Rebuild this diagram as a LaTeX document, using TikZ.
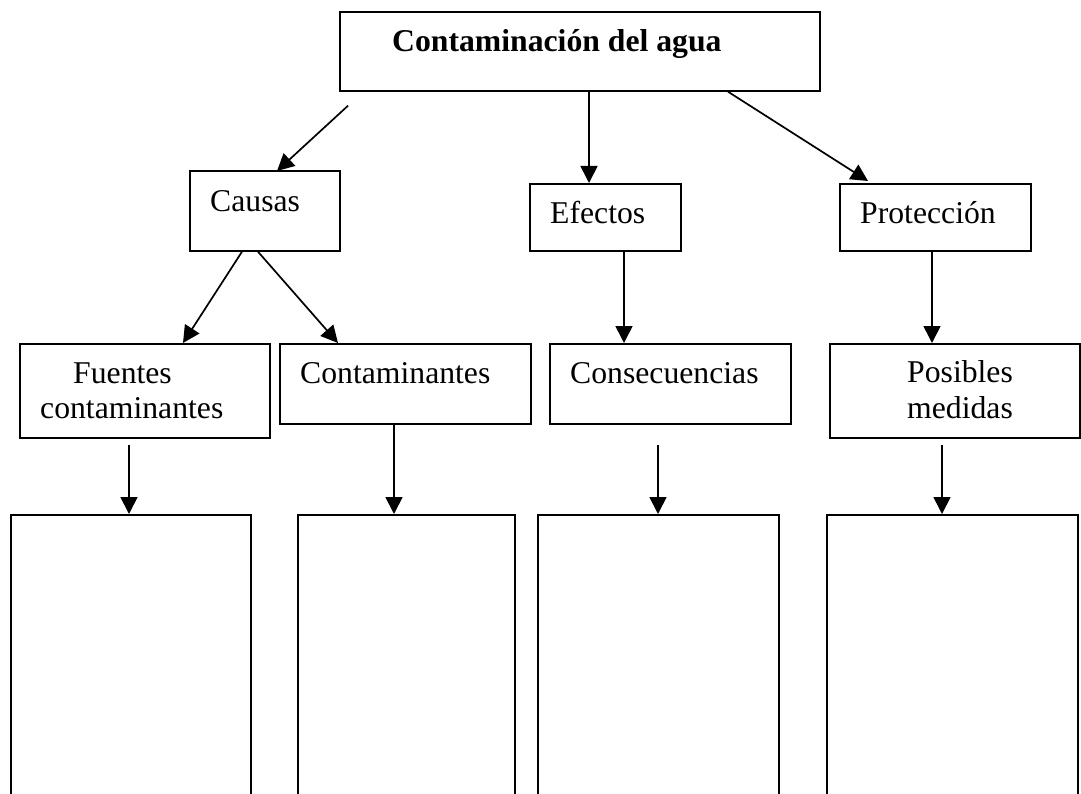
\documentclass[tikz,border=0pt]{standalone}
\usepackage{fontspec}
\setmainfont{Liberation Serif}
\usepackage{tikz}
\usetikzlibrary{arrows.meta}
\tikzset{caja/.style={rectangle,draw,line width=1.7pt,anchor=north west,inner sep=0pt},
         rotulo/.style={anchor=base west,inner sep=0pt,font=\fontsize{31.7}{36}\selectfont},
         flecha/.style={-{Triangle[length=17pt,width=17pt]},line width=1.7pt},
            }
\begin{document}
\begin{tikzpicture}[x=1pt,y=-1pt]
    \clip (0,0) rectangle (1081,794);
    \fill[white] (0,0) rectangle (1081,794);

    \node[caja,minimum width=480,minimum height=79] (agua) at (339,11) {};
    \node[caja,minimum width=150,minimum height=80] (causas) at (189,170) {};
    \node[caja,minimum width=151,minimum height=67] (efectos) at (529,183) {};
    \node[caja,minimum width=191,minimum height=67] (proteccion) at (839,183) {};
    \node[caja,minimum width=250,minimum height=94] (fuentes) at (19,343) {};
    \node[caja,minimum width=251,minimum height=80] (contam) at (279,343) {};
    \node[caja,minimum width=241,minimum height=80] (consec) at (549,343) {};
    \node[caja,minimum width=250,minimum height=94] (medidas) at (829,343) {};
    \node[caja,minimum width=240,minimum height=320] (b1) at (10,514) {};
    \node[caja,minimum width=217,minimum height=320] (b2) at (297,514) {};
    \node[caja,minimum width=241,minimum height=320] (b3) at (537,514) {};
    \node[caja,minimum width=251,minimum height=320] (b4) at (826,514) {};

    \node[rotulo,font=\fontsize{31.7}{36}\selectfont\bfseries] (t-agua) at ([shift={(53,41)}]agua.north west) {Contaminación del agua};
    \node[rotulo] (t-causas) at ([shift={(21,42)}]causas.north west) {Causas};
    \node[rotulo] (t-efectos) at ([shift={(21,41)}]efectos.north west) {Efectos};
    \node[rotulo] (t-proteccion) at ([shift={(21,41)}]proteccion.north west) {Protección};
    \node[rotulo] (t-fuentes1) at ([shift={(54,40)}]fuentes.north west) {Fuentes};
    \node[rotulo] (t-fuentes2) at ([shift={(21,75)}]fuentes.north west) {contaminantes};
    \node[rotulo] (t-contam) at ([shift={(21,40)}]contam.north west) {Contaminantes};
    \node[rotulo] (t-consec) at ([shift={(21,40)}]consec.north west) {Consecuencias};
    \node[rotulo] (t-medidas1) at ([shift={(78,39)}]medidas.north west) {Posibles};
    \node[rotulo] (t-medidas2) at ([shift={(78,75)}]medidas.north west) {medidas};

    \path[flecha]
    ([shift={(9,14)}]agua.south west) edge ([shift={(88,1)}]causas.north west)
    ([shift={(250,0)}]agua.south west) edge ([shift={(60,0)}]efectos.north west)
    ([shift={(389,0)}]agua.south west) edge ([shift={(29,-2)}]proteccion.north west)
    ([shift={(53,0)}]causas.south west) edge ([shift={(164,0)}]fuentes.north west)
    ([shift={(69,0)}]causas.south west) edge ([shift={(59,0)}]contam.north west)
    ([shift={(95,0)}]efectos.south west) edge ([shift={(75,0)}]consec.north west)
    ([shift={(93,0)}]proteccion.south west) edge ([shift={(103,0)}]medidas.north west)
    ([shift={(110,6)}]fuentes.south west) edge ([shift={(119,0)}]b1.north west)
    ([shift={(115,0)}]contam.south west) edge ([shift={(97,0)}]b2.north west)
    ([shift={(109,20)}]consec.south west) edge ([shift={(121,0)}]b3.north west)
    ([shift={(113,6)}]medidas.south west) edge ([shift={(116,0)}]b4.north west)
    ;
    %%
\end{tikzpicture}
\end{document}
